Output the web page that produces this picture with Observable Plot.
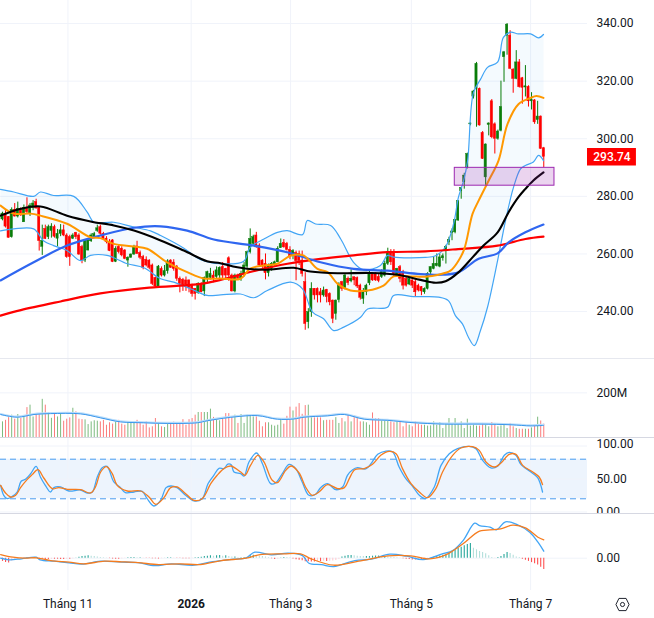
<!DOCTYPE html>
<html><head><meta charset="utf-8">
<style>
html,body{margin:0;padding:0;background:#fff;width:654px;height:618px;overflow:hidden}
#root{position:relative;width:654px;height:618px;font-family:Roboto,sans-serif}
.pane{position:absolute;left:0;width:654px}
.pane svg{display:block}
.sep{position:absolute;left:0;width:654px;height:1px}
</style>
<script src="https://cdn.jsdelivr.net/npm/d3@7"></script>
<script src="https://cdn.jsdelivr.net/npm/@observablehq/plot@0.6"></script>
</head><body><div id="root"></div>
<script>
// candles
const openP=[272,274,272.8,265.8,275.3,273,275.7,271,276,274,
276,278,276,262.5,268.7,265.8,268,269.3,265.3,267,
268.2,266.4,265.8,265.3,267.3,266.4,262.4,257.7,261.2,264.4,
265.8,268,269.3,267,265.3,264.1,264.7,257.3,262.4,261.8,
261.2,257.7,258.7,259.8,262.6,260.3,258.9,258,257.7,256,
251.7,248.5,254.8,252.5,254,257.7,257,255.6,251.4,251,
250.8,250.8,249,247.9,246.4,249.6,247,251.4,251.7,252.5,
252,252.5,255.4,254.8,258.5,252.5,247,252.5,251.4,253,
255.6,260.6,263.5,266.4,262.9,257.7,256.6,253.3,254.8,256,
257.1,262,263.8,263.5,261.4,259.5,260.3,260,257.7,250.2,
236.3,239.8,247.9,247.9,246.7,245.6,247.5,246.1,243.8,239.2,
244,250.2,248.2,251.4,250.5,251.9,251.6,249,244.4,246.7,
249.8,253.1,253,252,252,252.5,256.6,260.6,260.6,252.5,
255.4,253.7,251.3,249.4,250.8,250.2,249,248.5,246.7,247.9,
253.6,254.8,255.8,255.6,258.5,261.2,264,267.2,267.5,271.6,
281.8,284.9,290,305,314.6,317.3,317.3,302,286.6,304.8,
313,305,300,302.8,328.3,335.8,335.8,324,320.8,326.5,
321,317.8,318,313,313.3,306.5,307.7,296.7];
const closeP=[274,269.5,265.6,275.3,273,275.7,273.4,276,274.5,276.8,
277.5,275.8,264.5,264.5,265.2,269.3,269.5,266,267,268.2,
266.4,258.9,258.9,266.4,265.8,259.8,257.7,264.7,264.7,266.4,
266.9,268.9,267,265.3,264.1,261,257.2,261.8,260.6,259.5,
258.3,258.7,259.8,262.4,260,258.7,255.2,256,255.2,249.6,
248.7,255.6,252.5,254,257.4,255.2,254.8,251.4,249.5,248.7,
249.4,248.2,246.1,246.1,249.6,246.7,251.7,253.7,253.1,251.4,
254.3,255.2,252.5,252.5,252.5,247,252.5,251.4,253,256,
260.6,265.2,265.8,262.3,256,256,253.3,256,256.6,257.1,
261.8,263.5,262.3,261.4,259,261,257.5,257.5,253.1,235.7,
239.8,247.9,245.6,245.6,245.6,247.3,245,243.2,237.5,243.8,
249.4,247.9,252.5,249.9,251.4,250.8,248.7,244.8,246.7,249,
253.1,250.8,250.8,250.6,253.7,256.6,260.6,257.1,253.1,254.8,
251.4,249,249,251.3,249,246.7,247.3,247,247.9,253.1,
255.4,256.5,256.6,258.8,259.2,262.5,264.9,267.8,271.8,278.3,
282.9,287.2,294.7,305.3,316.4,326,304.6,293,298,305.3,
300.5,300,302.5,311,330,339.6,324.3,320.8,326.5,317.9,
317.7,318.2,313,313.5,305.7,307.7,296.5,293.74];
const highP=[274.5,275,273,276,277.5,278,276,277,279.5,277.5,
278.5,279,276.5,270,270,270,270.5,270,268.5,270.2,
270,267,266.5,267,267.5,267,263,265,265,267,
267.5,270,270,267.5,266,265,265,262.5,263,262.5,
261.5,259,260,263,264.4,261,259.5,259,258,256.5,
252,256,255.5,256,258,258,258,256,252,251.5,
252,251,249.5,248,250,250,252,254,255,254,
255.5,255.5,257,255,259,253,253,253,254,257,
261,268.7,266.5,267.5,263.5,258,260,256.5,257,257.5,
262.5,265.2,265,264,262.5,261.5,261,261,261,253.5,
241,250,248,248.2,248,248.5,247.7,246.5,244,244,
250,250.5,253,252,254.5,252,252,249.5,248,249.5,
254,253.5,253.5,253,254.5,257.5,262,261.5,261.5,255,
256,254.3,252,252,251,251,249.5,248.7,248.2,253.5,
255.5,259,260,260,260,263,265.8,268.7,272,278.5,
283,288,295,305.5,316.8,326.5,317.6,302.5,298.2,305.5,
313.6,305.5,303,320,330.3,340,337.5,324.3,330.6,327.5,
321.3,325.4,318.4,316,313.6,313,307.9,297];
const lowP=[271.5,269,265.5,265.5,272.8,272.5,273,271,274,273,
275,275.5,261,259.5,265,265,265.5,265.5,262.5,266,
266,258.5,255.7,265,265,259.5,256.6,257,261,264,
265.5,267.5,266.5,265,263.5,260.8,257,257,260,259,
258,255.4,258.5,259.5,259.8,258,254.5,255.5,254.5,249,
248,248,252,252,253,255,254,250.5,246.5,247,
247,246.5,245,244,246,246.5,245.2,250,251,250,
251.5,251.5,251,250.8,250.5,246.8,246.5,250.8,250.5,252,
255,260,263,262,255.5,255,251,252,254,255.5,
257,262,262,261,258,258,250.7,256,252,233.5,
234,238,244,243,243,245,243,242,235.8,237,
243,247,247.5,249,250,249,248,244,242.5,245.5,
249,250.5,250.5,250,251.5,252,256,256,252,252,
250,247.5,248.5,249,248,245,246.8,245.5,246,247.5,
252,254.5,255.5,255.2,257.5,256.5,262.9,264.6,267,271.3,
279,282.5,289.5,304.5,313.8,304,304.4,292.8,283.8,301,
300,294.7,299.5,302.4,319.6,329,324,315.8,320.5,317.6,
312,314.5,311,310,305,305,296.3,290];
// volume, millions
const volume=[70,77,89,100,82,103,85,95,134,145,
92,104,103,171,145,112,86,110,92,103,
73,82,88,131,115,82,80,79,58,70,
75,73,70,77,55,66,60,70,77,60,
55,70,63,66,77,63,55,70,43,48,
85,66,48,45,63,63,69,63,58,80,
55,80,85,100,112,112,112,112,127,90,
82,75,89,107,107,89,100,63,103,63,
100,95,92,92,73,48,66,66,55,51,
55,80,60,95,136,119,136,152,104,143,
145,88,88,88,88,75,77,
77,77,89,63,85,70,103,70,97,92,
70,70,66,55,110,85,85,77,74,77,
70,66,70,70,48,70,55,48,70,58,
55,55,51,52,70,55,67,40,63,85,
63,85,63,70,40,82,51,55,51,51,
63,55,48,67,63,48,52,58,
40,63,48,40,37,37,37,37,43,51,91,74,60];
const histogram=[-1.6,-2.2,-2.4,-1.5,-1,-.5,-.3,-.2,.2,.3,
.3,.1,-.4,-.5,-.6,-.6,-.5,-.5,-.5,-.6,
-.6,-.5,-.5,-.3,.2,.5,.8,1,1.2,1,
.8,.6,.3,.2,.1,-.2,-.4,-.5,-.5,-.3,
-.2,.2,.3,.3,.2,.2,-.1,-.2,-.2,-.3,
-.3,-.4,-.2,.1,.2,.2,-.1,-.2,-.2,-.3,
-.3,-.3,-.2,.2,.4,.5,.8,1,1.2,1,
1.2,1.3,1,1.2,.8,.6,.6,.2,.2,.2,
.4,1.2,1.5,1.2,1,.8,.6,.3,-.3,-.6,
-.4,.3,.4,.3,.2,-.4,-.8,-1,-1.3,-1.8,
-1.8,-1.9,-1.9,-1.7,-1.7,-1.5,-1.6,-1.5,-1.4,-1.2,
-.5,.6,1,1.3,1.4,1.2,1,.9,.8,.8,
.8,1,1.1,1.1,.8,.8,.7,.5,.3,.2,
-.1,-.3,-.5,-.7,-.9,-.9,-.8,-.9,-.8,-.3,
.2,.5,.8,1.1,1.5,2,2.6,3.2,4,5,
5.5,6.2,6.8,7.3,5,4.2,3.3,2.8,2.2,1.2,
.3,-.2,.4,.8,1.8,2.9,2.3,1.5,.6,.3,
-.5,-1,-1.6,-2.2,-2.8,-3.4,-4.5,-5.6];
// overlay lines: [bar index, value]
const bbUpper=[[-.65,282.4],[3.7,281.5],[10.2,280],[12.4,281.5],[16.7,280.3],[23.3,280],[27.7,274.5],[29.9,271],[36.4,271],[43,269.3],[48.4,268],[51.7,266.4],[59.3,262],[64.8,258],[71.3,256.6],[78.9,257.5],[81,262.3],[85.5,265.2],[89.9,267.5],[93.1,268.1],[98.1,266.7],[99.7,271.6],[102.4,270.4],[107.3,269.9],[110.6,265.2],[114.8,257.1],[118.1,254.5],[123.6,256],[125.9,259.5],[127.9,258.9],[138.3,258.8],[141.6,259.4],[144.9,262.5],[147.5,270.4],[149.1,279.7],[150.8,285.5],[152.1,292.4],[154,316],[156.3,320.6],[158.6,324.8],[161.9,326.6],[163.8,335.2],[166.1,337],[168.7,336.4],[172.7,336.4],[175.3,335],[176.9,336.2]];
const bbLower=[[-.65,268],[3.7,268.7],[10.2,268.7],[13.5,264.5],[16.7,262.9],[21.1,261.2],[25.5,257.7],[28.8,259.5],[34.2,259.5],[40.8,256.6],[46.2,255.2],[51.7,251.4],[56,250.2],[61.5,247.9],[66.9,245.6],[71.3,245.8],[77.8,246.1],[82.2,244.8],[86.6,247.3],[94.2,250.2],[98.1,247.9],[101.4,239.8],[105,237.5],[108.3,233.4],[111.6,234.6],[117.1,238],[119.4,240.9],[125.9,241.5],[127.9,245.6],[134.4,245.2],[138.3,245.2],[142.6,245],[145.8,243.8],[148.1,238.6],[150.4,235.7],[152.4,231],[154.3,228.2],[156.3,233.4],[158.6,241.5],[161.9,257.7],[164.5,271.6],[167.1,283.1],[169.4,289.5],[171,290.7],[173.6,291.9],[175.3,294.2],[176.9,292.4]];
const ma20=[[-.65,276.8],[3.7,274],[9.2,274],[12.4,273.3],[21.1,270.5],[28.8,265.8],[32,265.5],[36.4,263.5],[43,262.6],[47.3,261.8],[53.8,257.1],[60.4,253.7],[65.8,251.5],[71.3,251.5],[77.8,251.4],[81,254.9],[85.5,256],[89.9,256.6],[94.2,259.4],[98.4,259.5],[103,254.8],[106.3,253.7],[109.6,249.6],[113.8,247.3],[119.4,247.3],[124.6,249],[127.9,252.2],[133.4,252.2],[138.3,252.1],[142.6,252.8],[146.5,254.2],[148.8,257.1],[151,261.7],[153.7,273.9],[155.7,278.5],[159,285.5],[162.2,292.4],[165.1,305],[168.7,312],[172.7,314.2],[174.6,314.8],[176.9,314.2]];
const ma50=[[-.65,273.3],[6,275.7],[12.4,276.5],[21.1,273.3],[28.8,271.3],[36.4,269.9],[43,268.1],[51.7,264.7],[59.3,261.2],[66.9,257.5],[71.3,256.8],[76.8,255.4],[85.5,254.5],[95.2,255.2],[100.7,253.9],[109.6,253.3],[120.3,253.4],[129.2,252.8],[136.7,251],[141.6,250],[144.9,250.5],[149.1,253.6],[153.7,258.8],[157.3,262.9],[161.9,267.5],[165.5,274.5],[168.7,279.7],[171,282.6],[173.6,285.5],[176.9,288.3]];
const ma100=[[-.65,250.8],[10.2,257.1],[21.1,262.9],[32,266.4],[43,269.1],[51.7,269.6],[60.4,268.1],[69.1,265],[82.2,262.9],[93.1,260.6],[104,257.1],[114.8,254.8],[125.9,254.2],[136.7,253],[143.9,252.8],[149.1,253.6],[155.7,258.3],[161.9,260.2],[165.5,264],[171,267.5],[176.9,270.2]];
const ma200=[[-.65,238.6],[6,240.5],[19,243.5],[32,246.3],[48,248.3],[65,249.6],[71.3,251],[82,254],[93.2,256.6],[104,258.3],[114.8,259.5],[125.9,260.6],[138.3,260.9],[149,261.7],[161.9,262.9],[171,265.2],[176.9,266]];
const volSma=[[-.6,103],[4.8,91],[10.3,103],[15.7,107],[25.5,106],[32.1,88],[38.6,70],[46.2,66],[53.9,63],[63.7,66],[67,75],[75.7,92],[83.3,98],[89.9,82],[95.3,83],[98.6,91],[106.3,97],[111.8,103],[118.3,82],[125.9,77],[133.6,67],[144.5,60],[156.5,60],[166.3,57],[172.8,52],[176.9,54]];
const stochK=[[-.6,40.4],[.4,25.3],[1.5,20.2],[3.2,23.7],[4.8,30.3],[6.1,46.5],[7.5,49.5],[9.2,58],[11,69],[12.4,53],[14,40.4],[15.7,30.3],[16.8,36.9],[19,37.9],[21.7,31.8],[25.5,33.3],[27.7,28.8],[29.3,29.8],[31,53],[32.6,67.2],[34.2,69.2],[36.4,45.5],[38.6,36.9],[40.2,29.3],[43,30.3],[45.7,31.3],[47.3,20.2],[49.5,9.1],[51.7,17.7],[53.5,36.9],[55,39.4],[57.1,36.9],[59.9,25.3],[62.6,16.7],[65.3,20.2],[67.2,42.9],[69.1,55.6],[70.8,66.2],[72.4,65.7],[73.7,72.7],[74.8,71.7],[75.7,60.6],[77.9,58.1],[79,54.5],[80.6,75.8],[83.1,89.4],[85,73.2],[87.7,42.9],[89.3,43.9],[91.5,58.1],[93.7,72.2],[95.9,65.7],[98,45.5],[100.2,25.3],[102.4,26.8],[104,36.9],[106.3,42.9],[109,33.8],[111.2,37.9],[112.8,55.6],[114.5,64.1],[116.1,67.2],[118.8,65.2],[120.5,73.2],[122.7,87.4],[125.4,92.4],[127.6,90.9],[129.7,68.2],[131.9,50.5],[134.1,38.9],[136.3,25.3],[138.3,20.2],[141.2,37.9],[143.4,70.7],[146.1,88.4],[148.8,96],[152.6,99.5],[154.8,96],[157,78.3],[159.7,66.7],[161.9,69.2],[164.1,85.9],[165.7,90.4],[167.9,85.9],[169.5,72.2],[172.8,60.6],[175,52],[176.6,30.3]];
const stochD=[[-.6,40.4],[1,28.8],[2.6,22.7],[4.3,25.3],[5.9,36.9],[8.1,49.5],[9.7,56.6],[11.6,64.1],[13.5,51.5],[16.3,35.4],[18.4,36.9],[21.2,34.3],[25.5,33.8],[28.8,28.8],[30.4,37.9],[32.1,60.6],[34,68.7],[35.9,58.1],[37.5,40.4],[40.8,31.8],[45.2,31.8],[47.9,22.7],[50.1,11.6],[52.8,21.7],[55,36.9],[57.1,37.9],[59.9,27.8],[62.6,17.7],[65.3,20.2],[68.1,42.9],[70.2,55.6],[72.4,65.7],[74.6,69.7],[77.9,60.6],[79.3,55.6],[81.1,70.7],[83.5,85.9],[85.5,75.8],[88.2,48],[89.9,44.4],[92.6,63.1],[94.4,69.7],[97,59.1],[99.1,37.9],[101.3,25.3],[103.5,30.3],[106.3,41.4],[109.6,35.4],[111.8,36.9],[113.4,50.5],[115.2,64.1],[118.3,65.7],[121,72.2],[123.7,85.9],[126.5,91.9],[128.7,88.4],[130.8,65.7],[133.6,42.9],[136.3,30.3],[139,21.7],[141.7,35.4],[143.9,60.6],[147.2,85.9],[149.9,97],[153.7,99],[155.9,93.4],[158.1,75.8],[160.8,68.2],[163,74.2],[165.7,87.4],[167.9,87.4],[170.1,70.7],[173.4,60.6],[175.5,53],[176.6,41.4]];
const macdLine=[[-.6,0],[2.1,-.8],[6.2,-.3],[11,.5],[12.3,-.8],[17,-1.5],[21.8,-2.3],[25.9,-3],[32,-1.5],[38.9,-2],[44.3,-2.2],[49.8,-3.7],[55.2,-2.8],[62.7,-3.5],[68.8,-1.7],[75.6,-.5],[79.7,.2],[82.5,3],[87.9,1.7],[93.4,2.5],[98.1,1.3],[100.2,-2.5],[104.3,-3.2],[108.3,-4.2],[115.2,-1.2],[120.6,-.5],[126.7,2],[132.2,1],[137.6,-.7],[143.8,2.2],[147.2,3.8],[150.6,8.8],[154.4,17.5],[156,16.3],[159.4,15.5],[161.5,14.2],[164.5,18.2],[168.3,16.8],[172.4,13],[175.1,8],[177,3.5]];
const macdSignal=[[-.6,1.8],[3.4,.5],[7.5,0],[11,.2],[15.7,-1.2],[21.8,-2],[26.6,-2.8],[33.4,-1.5],[38.9,-1.8],[44.3,-2.2],[51.1,-3.2],[58,-2.8],[64.7,-3.2],[71.6,-1.2],[79.7,0],[83.8,1.7],[92,2.2],[97.5,2.2],[100.9,-.3],[108.3,-3.5],[116.5,-1.5],[126,1.2],[133.5,1.2],[139.7,-.3],[145.1,1.8],[150.6,7.2],[156,13.5],[160.8,14.3],[162.9,14.7],[166.9,16.5],[171,15.2],[175.1,10.5],[177,9.2]];
// ticks
const monthTicks=[21.4,61.7,94.2,133.7,172.7];
const monthLabels=["Tháng 11","2026","Tháng 3","Tháng 5","Tháng 7"];
const priceTicks=[240,260,280,300,320,340];
const lastPrice=293.74;
const zone={x1:147.9,x2:180.5,y1:283.7,y2:289.9};
const tag={x1:191.3,x2:207.3,x:199.3};

const W=654, MR=67, X={domain:[-.654,191.3],axis:null};
const GRID="#f0f3fa", RED="#ff0000", GREEN="#0a7d0a";
const bars=openP.map((o,i)=>({i,o,c:closeP[i],h:highP[i],l:lowP[i],v:volume[i],m:histogram[i],prev:i?histogram[i-1]:0}));
const upBar=d=>d.c>=d.o;
const LINE={x:d=>d[0],y:d=>d[1],curve:"catmull-rom"};
const line=(a,stroke,strokeWidth)=>Plot.line(a,{...LINE,stroke,strokeWidth});
const axis=(ticks,fmt,dy=0)=>Plot.axisY({anchor:"right",ticks,tickSize:0,tickPadding:9,tickFormat:fmt,label:null,fill:"#131722",fontSize:12,dy});
const style={fontFamily:"Roboto,sans-serif",fontSize:"12px",color:"#131722",background:"transparent",overflow:"hidden"};
const vgrid=Plot.ruleX(monthTicks,{stroke:GRID});

const main=Plot.plot({width:W,height:358,marginLeft:0,marginRight:MR,marginTop:0,marginBottom:0,style,
 x:X,y:{domain:[223.7,348],axis:null},
 marks:[vgrid,Plot.ruleY(priceTicks,{stroke:GRID}),
  Plot.line([...bbUpper,...bbLower.slice().reverse()],{x:d=>d[0],y:d=>d[1],curve:"linear",fill:"rgba(33,150,243,.05)",stroke:"none"}),
  Plot.ruleX(bars,{x:"i",y1:"l",y2:"h",stroke:d=>upBar(d)?GREEN:RED,strokeWidth:1}),
  Plot.rect(bars,{x1:d=>d.i-.36,x2:d=>d.i+.36,y1:"o",y2:"c",fill:d=>upBar(d)?GREEN:RED,stroke:d=>upBar(d)?GREEN:RED,strokeWidth:.5}),
  line(bbUpper,"#42a5f5",1.2),line(bbLower,"#42a5f5",1.2),
  line(ma200,"#ff0000",2.2),line(ma100,"#2f66f0",2.2),line(ma20,"#ff9800",2),line(ma50,"#000",2.1),
  Plot.rect([zone],{x1:"x1",x2:"x2",y1:"y1",y2:"y2",fill:"rgba(156,39,176,.2)",stroke:"#9c27b0",strokeWidth:1}),
  axis(priceTicks,d=>d.toFixed(2)),
  Plot.ruleY([lastPrice],{x1:()=>tag.x1,x2:()=>tag.x2,stroke:RED,strokeWidth:17.5}),
  Plot.text([lastPrice],{x:()=>tag.x,y:d=>d,text:d=>d.toFixed(2),fill:"#fff",fontWeight:500,fontSize:12})
 ]});

const vol=Plot.plot({width:W,height:79,marginLeft:0,marginRight:MR,marginTop:0,marginBottom:0,style,
 x:X,y:{domain:[0,354],axis:null},
 marks:[vgrid,Plot.ruleY([200],{stroke:GRID}),
  Plot.ruleX(bars,{x:"i",y1:0,y2:"v",stroke:d=>upBar(d)?"#7cba7e":"#fb7b7b",strokeWidth:1}),
  Plot.line(volSma,{...LINE,stroke:"#bbdefb",strokeWidth:2,dy:-.6}),
  line(volSma,"#3b97ec",1),
  axis([200],d=>d+"M")]});

const stoch=Plot.plot({width:W,height:76,marginLeft:0,marginRight:MR,marginTop:0,marginBottom:0,style,
 x:X,y:{domain:[-2.3,112.9],axis:null},
 marks:[Plot.rect([0],{y1:20,y2:80,fill:"#edf4fd"}),vgrid,Plot.ruleY([0,50,100],{stroke:GRID}),
  Plot.ruleY([20,80],{stroke:"#4a9df0",strokeDasharray:"6 4",strokeWidth:1}),
  line(stochK,"#42a5f5",1.3),line(stochD,"#f57c1f",1.3),
  axis([0,50],d=>d.toFixed(2)),axis([100],d=>d.toFixed(2),-1.5)]});

const isRising=d=>Math.abs(d.m)>=Math.abs(d.prev);
const histColor=d=>d.m>=0?(isRising(d)?"#26a69a":"#b2dfdb"):(isRising(d)?"#ff5252":"#ffcdd2");
const macd=Plot.plot({width:W,height:105,marginLeft:0,marginRight:MR,marginTop:0,marginBottom:28,style,
 x:X,y:{domain:[-16.15,22.35],axis:null},
 marks:[vgrid,Plot.ruleY([0],{stroke:GRID}),
  Plot.ruleX(bars,{x:"i",y1:0,y2:"m",stroke:histColor,strokeWidth:1.1}),
  line(macdLine,"#42a5f5",1.3),line(macdSignal,"#f57c1f",1.3),
  axis([0],d=>d.toFixed(2)),
  Plot.text(monthLabels.filter(t=>t!=="2026"),{x:t=>monthTicks[monthLabels.indexOf(t)],frameAnchor:"bottom",dy:17,fontSize:12,fill:"#131722"}),
  Plot.text(monthLabels.filter(t=>t==="2026"),{x:t=>monthTicks[monthLabels.indexOf(t)],frameAnchor:"bottom",dy:17,fontSize:12,fontWeight:"bold",fill:"#131722"})
 ]});

const root=document.getElementById("root");
[[main,0,358],[vol,358,79],[stoch,437,76],[macd,513,105]].forEach(([el,top,h])=>{
  const d=document.createElement("div");d.className="pane";d.style.top=top+"px";d.style.height=h+"px";d.appendChild(el);root.appendChild(d);
});
[[358,"#e6e8ef"],[437,"#d6d8e2"],[513,"#d6d8e2"]].forEach(([t,c])=>{
  const s=document.createElement("div");s.className="sep";s.style.top=t+"px";s.style.background=c;root.appendChild(s);
});
// settings icon
const g=document.createElement("div");
g.style.cssText="position:absolute;left:615px;top:597px;width:15px;height:15px";
g.innerHTML='<svg width="15" height="15" viewBox="0 0 16 16" fill="none" stroke="#131722" stroke-width="1"><polygon points="4.2,1.5 11.8,1.5 15,8 11.8,14.5 4.2,14.5 1,8"/><circle cx="8" cy="8" r="2.2"/></svg>';
root.appendChild(g);
</script></body></html>
